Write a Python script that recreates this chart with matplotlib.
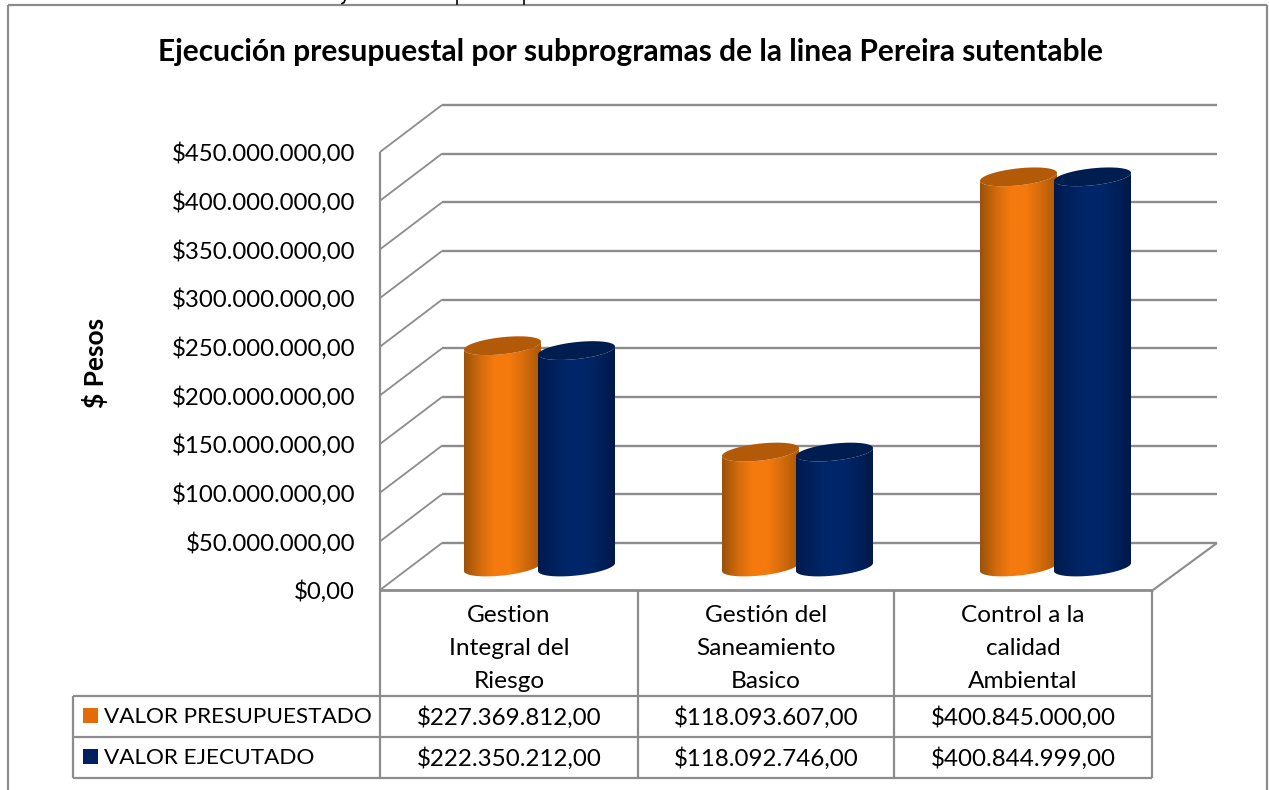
#!/usr/bin/env python3

import numpy as np
import matplotlib
matplotlib.use("Agg")
import matplotlib.pyplot as plt
from matplotlib.path import Path
from matplotlib.patches import PathPatch, Rectangle
from matplotlib.colors import LinearSegmentedColormap

# ----------------------------
# Data
# ----------------------------
title = "Ejecución presupuestal por subprogramas de la linea Pereira sutentable"
ylabel = "$ Pesos"
categories = ["Gestion\nIntegral del\nRiesgo", "Gestión del\nSaneamiento\nBasico", "Control a la\ncalidad\nAmbiental"]
series_names = ["VALOR PRESUPUESTADO", "VALOR EJECUTADO"]
presupuestado = [227369812, 118093607, 400845000]
ejecutado = [222350212, 118092746, 400844999]
yticks = [0, 50e6, 100e6, 150e6, 200e6, 250e6, 300e6, 350e6, 400e6, 450e6]

# ----------------------------
# Style
# ----------------------------
font = "Lato"
gray = "#8c8c8c"
legend_colors = ["#e36c09", "#002060"]
top_colors = ["#b35a08", "#001d50"]
ramps = [["#9a5208", "#d06a0c", "#f67a0e", "#f47a0e", "#d26a0c", "#ab5808"],
         ["#001a4e", "#00215c", "#00266a", "#00266a", "#00215c", "#001848"]]

W, H = 1269, 790
fig = plt.figure(figsize=(W / 100, H / 100), dpi=100)
ax = fig.add_axes([0, 0, 1, 1])


def money(v):
    s = f"{v:,.2f}"
    return "$" + s.replace(",", "X").replace(".", ",").replace("X", ".")


# chart box geometry in pixels
x_front, x_front_end = 380, 1153
x_back, x_back_end = 442, 1217
y_front0, y_back0 = 590, 543
px_per_peso = 438 / 450e6
base_y = 567
first_x = 464
group_step = 258
bar_step = 74
bar_w = 77

# ----------------------------
# Walls and floor
# ----------------------------
def line(xs, ys, lw=1.5):
    ax.plot(xs, ys, color=gray, lw=lw, solid_capstyle="butt", zorder=1)


for v in yticks:
    dy = v * px_per_peso
    line([x_front, x_back], [y_front0 - dy, y_back0 - dy], lw=1.3)
    line([x_back, x_back_end], [y_back0 - dy, y_back0 - dy], lw=1.7)
    ax.text(355, y_front0 - dy + 2, money(v), ha="right", va="center", fontsize=17.3, family=font, color="black")

line([x_front, x_front], [y_front0 - yticks[-1] * px_per_peso, y_front0], lw=1.6)
line([x_front, x_front_end], [y_front0, y_front0], lw=2)
line([x_front_end, x_back_end], [y_front0, y_back0], lw=1.5)

# ----------------------------
# Cylinders
# ----------------------------
t_low = np.linspace(0, np.pi, 60)
t_all = np.linspace(0, 2 * np.pi, 120)
a = bar_w / 2
b = 8.5
k = 4


def ellipse_xy(cx, cy, t):
    return cx + a * np.cos(t), cy + b * np.sin(t) - k * np.cos(t)


def cylinder(left, value, s, z):
    cx = left + a
    top = base_y - value * px_per_peso
    bx, by = ellipse_xy(cx, base_y, t_low)
    tx, ty = ellipse_xy(cx, top, t_low[::-1])
    px = np.concatenate([bx, [left], tx])
    py = np.concatenate([by, [top + k], ty])
    body = Path(np.column_stack([px, py]))
    cmap = LinearSegmentedColormap.from_list("c", ramps[s])
    im = ax.imshow(np.linspace(0, 1, 256)[None, :], extent=[left, left + bar_w, base_y + 12, top - 12],
                   cmap=cmap, aspect="auto", zorder=z, interpolation="bilinear")
    patch = PathPatch(body, transform=ax.transData, facecolor="none", edgecolor="none")
    ax.add_patch(patch)
    im.set_clip_path(patch)
    ex, ey = ellipse_xy(cx, top, t_all)
    ax.fill(ex, ey, color=top_colors[s], lw=0, zorder=z + 0.5)


for i, (p, e) in enumerate(zip(presupuestado, ejecutado)):
    x0 = first_x + group_step * i
    cylinder(x0, p, 0, 3 + i)
    cylinder(x0 + bar_step, e, 1, 3.7 + i)

# ----------------------------
# Data table
# ----------------------------
table_x = [380, 638, 894, 1152]
table_left = 73
rows_y = [696, 737, 778]

line([table_left, table_x[-1]], [rows_y[0], rows_y[0]], lw=1.6)
line([table_left, table_x[-1]], [rows_y[1], rows_y[1]], lw=1.6)
line([table_left, table_x[-1]], [rows_y[2], rows_y[2]], lw=1.6)
line([table_left, table_left], [rows_y[0], rows_y[2]], lw=1.6)
for tx in table_x:
    line([tx, tx], [y_front0, rows_y[2]], lw=1.6)

for i, cat in enumerate(categories):
    xc = (table_x[i] + table_x[i + 1]) / 2
    for j, part in enumerate(cat.split("\n")):
        ax.text(xc, 616 + 32.5 * j, part, ha="center", va="center", fontsize=17.6, family=font)
    ax.text(xc, 718, money(presupuestado[i]), ha="center", va="center", fontsize=17.4, family=font)
    ax.text(xc, 759, money(ejecutado[i]), ha="center", va="center", fontsize=17.4, family=font)

for s, name in enumerate(series_names):
    yc = 716 + 41 * s
    ax.add_patch(Rectangle((83, yc - 8), 15, 15, facecolor=legend_colors[s], edgecolor="none"))
    ax.text(104, yc + 1, name, ha="left", va="center", fontsize=16.2, family=font)

# ----------------------------
# Titles and frame
# ----------------------------
ax.text(630, 52, title, ha="center", va="center", fontsize=21.5, fontweight="bold", family=font)
ax.text(95, 363, ylabel, rotation=90, ha="center", va="center", fontsize=19, fontweight="bold", family=font)

# ink left over from the cut off line above the chart
ax.plot([345, 344, 342], [0, 2.5, 3.5], color="black", lw=1.2)
ax.plot([457, 457], [0, 3.5], color="black", lw=1.2)
ax.plot([523.5, 523.5], [0, 3.5], color="black", lw=1.2)

line([8, 8], [H, 5], lw=1.6)
line([8, 1267], [5, 5], lw=1.6)
line([1267, 1267], [5, H], lw=1.6)

ax.set_xlim(0, W)
ax.set_ylim(H, 0)
ax.axis("off")

fig.savefig("out.png", dpi=100, facecolor="white")
